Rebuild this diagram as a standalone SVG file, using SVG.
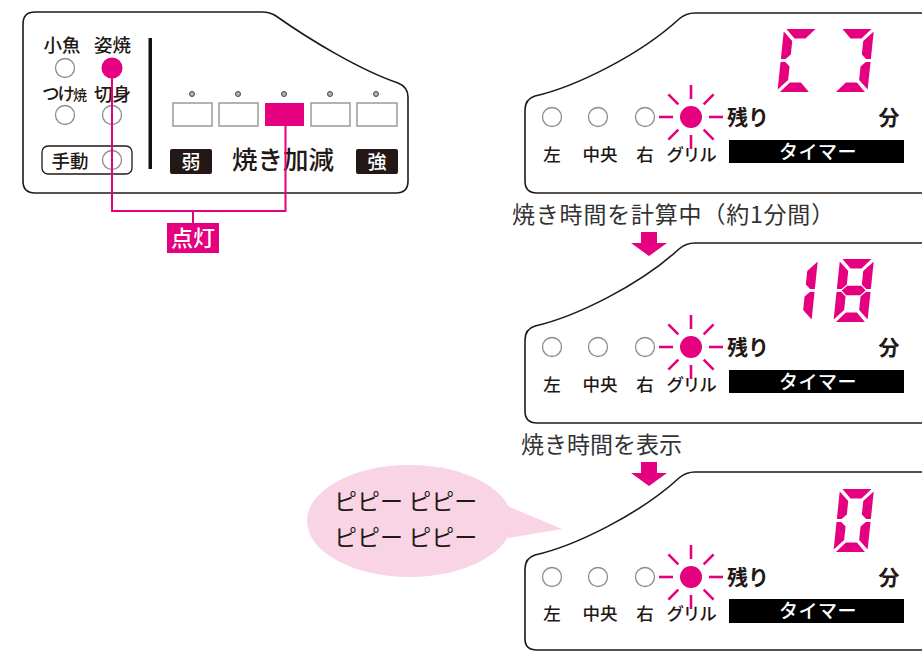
<svg xmlns="http://www.w3.org/2000/svg" xmlns:xlink="http://www.w3.org/1999/xlink" width="922" height="652" viewBox="0 0 922 652">
<style>
.jp{font-family:"Noto Sans CJK JP","Noto Sans CJK SC",sans-serif;fill:#231815;font-weight:500}
.b{font-weight:700}
.outline{fill:#fff;stroke:#231815;stroke-width:1.6}
.led{fill:#fff;stroke:#8c8c8c;stroke-width:1.3}
.pinkf{fill:#e5007f}
.ray{stroke:#e5007f;stroke-width:2.6;fill:none}
.seg{fill:#e5007f}
.wire{stroke:#e5007f;stroke-width:2;fill:none}
.lvl{fill:#fff;stroke:#9a9a9a;stroke-width:1.5}
.dot{fill:#b0b0b0;stroke:#444;stroke-width:1}
.cap{font-family:"Noto Sans CJK JP","Noto Sans CJK SC",sans-serif;fill:#333;font-size:23px}
</style>
<defs>
<g id="rays">
<line class="ray" x1="0" y1="-18" x2="0" y2="-32"/>
<line class="ray" x1="0" y1="18" x2="0" y2="32"/>
<line class="ray" x1="-18" y1="0" x2="-32" y2="0"/>
<line class="ray" x1="18" y1="0" x2="32" y2="0"/>
<line class="ray" x1="-12.7" y1="-12.7" x2="-22.6" y2="-22.6"/>
<line class="ray" x1="12.7" y1="-12.7" x2="22.6" y2="-22.6"/>
<line class="ray" x1="-12.7" y1="12.7" x2="-22.6" y2="22.6"/>
<line class="ray" x1="12.7" y1="12.7" x2="22.6" y2="22.6"/>
</g>
<polygon id="sa" class="seg" points="2.5,0 31.5,0 22.5,9.5 11.5,9.5"/>
<polygon id="sb" class="seg" points="34,2.5 24.5,12 24.5,25.5 29.25,30 34,30"/>
<polygon id="sc" class="seg" points="34,60.5 24.5,51 24.5,37.5 29.25,33 34,33"/>
<polygon id="sd" class="seg" points="2.5,63 31.5,63 22.5,53.5 11.5,53.5"/>
<polygon id="se" class="seg" points="0,60.5 9.5,51 9.5,37.5 4.75,33 0,33"/>
<polygon id="sf" class="seg" points="0,2.5 9.5,12 9.5,25.5 4.75,30 0,30"/>
<polygon id="sg" class="seg" points="5,31.5 10,26.75 24,26.75 29,31.5 24,36.25 10,36.25"/>
</defs>

<rect width="922" height="652" fill="#fff"/>

<!-- Left control panel -->
<g id="panel-left">
<path class="outline" d="M35,12 H262 Q270,12 276,16 C310,40 360,70 398,83 Q408,87 408,97 V181 Q408,193 396,193 H35 Q23,193 23,181 V24 Q23,12 35,12 Z"/>
<text class="jp" x="62" y="52" font-size="18.5" text-anchor="middle">小魚</text>
<text class="jp" x="112.5" y="52" font-size="18.5" text-anchor="middle">姿焼</text>
<circle class="led" cx="65" cy="68" r="9.5"/>
<circle class="pinkf" cx="112" cy="68" r="10.5"/>
<text class="jp" x="42" y="100" font-size="17.5" letter-spacing="-2">つけ<tspan font-size="14" letter-spacing="0">焼</tspan></text>
<text class="jp" x="112.5" y="101" font-size="18.5" text-anchor="middle">切身</text>
<circle class="led" cx="65" cy="115" r="9.5"/>
<circle class="led" cx="112" cy="115" r="9.5"/>
<rect x="42" y="146" width="90" height="28" rx="6" fill="#fff" stroke="#231815" stroke-width="1.3"/>
<text class="jp" x="70" y="168" font-size="18.5" text-anchor="middle">手動</text>
<circle class="led" cx="112" cy="160" r="9.5"/>
<rect x="148.5" y="38" width="3.5" height="131" fill="#111"/>
<circle class="dot" cx="192" cy="94" r="2.5"/>
<circle class="dot" cx="238" cy="94" r="2.5"/>
<circle class="dot" cx="284" cy="94" r="2.5"/>
<circle class="dot" cx="330" cy="94" r="2.5"/>
<circle class="dot" cx="376" cy="94" r="2.5"/>
<rect class="lvl" x="173" y="103" width="39" height="23"/>
<rect class="lvl" x="219" y="103" width="39" height="23"/>
<rect class="pinkf" x="265" y="103" width="39" height="23"/>
<rect class="lvl" x="311" y="103" width="39" height="23"/>
<rect class="lvl" x="357" y="103" width="40" height="23"/>
<rect x="170" y="149" width="42" height="25" rx="2" fill="#231815"/>
<text class="jp" x="191" y="169" font-size="19" text-anchor="middle" style="fill:#fff">弱</text>
<rect x="356" y="149" width="42" height="25" rx="2" fill="#231815"/>
<text class="jp" x="377" y="169" font-size="19" text-anchor="middle" style="fill:#fff">強</text>
<text class="jp" x="283" y="169" font-size="25.5" text-anchor="middle">焼き加減</text>
</g>

<!-- Connectors -->
<g id="connectors">
<path class="wire" d="M112,68 V211 H285.5 V126"/>
<path class="wire" d="M193,211 V223"/>
<path class="pinkf" d="M641,232 H657 V243 H667 L649,256 L631,243 H641 Z"/>
<path class="pinkf" d="M641,462 H657 V473 H667 L649,486 L631,473 H641 Z"/>
</g>

<g id="label-tento">
<rect class="pinkf" x="167" y="223" width="52" height="30"/>
<text class="jp" x="193" y="246" font-size="22" text-anchor="middle" style="fill:#fff">点灯</text>
</g>

<!-- Panel 1 -->
<g id="display-1">
<path class="outline" d="M922,13 H695 Q686,13 679,19 C640,55 575,87 535,96 Q525,99 525,110 V181 Q525,193 537,193 H923"/>
<g transform="translate(784,29) skewX(-6)">
<use xlink:href="#sa"/><use xlink:href="#sf"/><use xlink:href="#se"/><use xlink:href="#sd"/>
</g>
<g transform="translate(840,29) skewX(-6)">
<use xlink:href="#sa"/><use xlink:href="#sb"/><use xlink:href="#sc"/><use xlink:href="#sd"/>
</g>
<circle class="led" cx="552" cy="117" r="9.5"/>
<circle class="led" cx="598" cy="117" r="9.5"/>
<circle class="led" cx="645" cy="117" r="9.5"/>
<circle class="pinkf" cx="691" cy="117" r="11"/>
<use xlink:href="#rays" x="691" y="117"/>
<text class="jp b" x="727" y="125" font-size="21">残り</text>
<text class="jp b" x="889" y="125" font-size="21" text-anchor="middle">分</text>
<text class="jp" x="552" y="161" font-size="17.5" text-anchor="middle">左</text>
<text class="jp" x="600" y="161" font-size="17.5" text-anchor="middle">中央</text>
<text class="jp" x="645" y="161" font-size="17.5" text-anchor="middle">右</text>
<text class="jp" x="691" y="161" font-size="17.5" text-anchor="middle" letter-spacing="-1.2">グリル</text>
<rect x="729" y="140" width="175" height="23" fill="#000"/>
<text class="jp" x="818" y="159" font-size="19" text-anchor="middle" letter-spacing="0.5" style="fill:#fff">タイマー</text>
</g>

<text id="caption-1" class="cap" x="512" y="223" letter-spacing="0.8">焼き時間を計算中（約1分間）</text>

<!-- Panel 2 -->
<g id="display-2">
<path class="outline" d="M922,243 H695 Q686,243 679,249 C640,285 575,317 535,326 Q525,329 525,340 V411 Q525,423 537,423 H923"/>
<g transform="translate(784,259) skewX(-6)">
<use xlink:href="#sb"/><use xlink:href="#sc"/>
</g>
<g transform="translate(840,259) skewX(-6)">
<use xlink:href="#sa"/><use xlink:href="#sb"/><use xlink:href="#sc"/><use xlink:href="#sd"/><use xlink:href="#se"/><use xlink:href="#sf"/><use xlink:href="#sg"/>
</g>
<circle class="led" cx="552" cy="347" r="9.5"/>
<circle class="led" cx="598" cy="347" r="9.5"/>
<circle class="led" cx="645" cy="347" r="9.5"/>
<circle class="pinkf" cx="691" cy="347" r="11"/>
<use xlink:href="#rays" x="691" y="347"/>
<text class="jp b" x="727" y="355" font-size="21">残り</text>
<text class="jp b" x="889" y="355" font-size="21" text-anchor="middle">分</text>
<text class="jp" x="552" y="391" font-size="17.5" text-anchor="middle">左</text>
<text class="jp" x="600" y="391" font-size="17.5" text-anchor="middle">中央</text>
<text class="jp" x="645" y="391" font-size="17.5" text-anchor="middle">右</text>
<text class="jp" x="691" y="391" font-size="17.5" text-anchor="middle" letter-spacing="-1.2">グリル</text>
<rect x="729" y="370" width="175" height="23" fill="#000"/>
<text class="jp" x="818" y="389" font-size="19" text-anchor="middle" letter-spacing="0.5" style="fill:#fff">タイマー</text>
</g>

<text id="caption-2" class="cap" x="521" y="453">焼き時間を表示</text>

<!-- Speech bubble -->
<g id="bubble">
<path d="M505,505 L562,529 L508,538 Z" fill="#f8d4e4"/>
<ellipse cx="409.5" cy="521" rx="102.5" ry="56" fill="#f8d4e4"/>
<text class="jp" x="334" y="510" font-size="23" style="font-weight:400">ピピー ピピー</text>
<text class="jp" x="334" y="546" font-size="23" style="font-weight:400">ピピー ピピー</text>
</g>

<!-- Panel 3 -->
<g id="display-3">
<path class="outline" d="M922,472 H695 Q686,472 679,478 C640,514 575,546 535,555 Q525,558 525,569 V639 Q525,650 537,650 H923"/>
<g transform="translate(840,489) skewX(-6)">
<use xlink:href="#sa"/><use xlink:href="#sb"/><use xlink:href="#sc"/><use xlink:href="#sd"/><use xlink:href="#se"/><use xlink:href="#sf"/>
</g>
<circle class="led" cx="552" cy="577" r="9.5"/>
<circle class="led" cx="598" cy="577" r="9.5"/>
<circle class="led" cx="645" cy="577" r="9.5"/>
<circle class="pinkf" cx="691" cy="577" r="11"/>
<use xlink:href="#rays" x="691" y="577"/>
<text class="jp b" x="727" y="585" font-size="21">残り</text>
<text class="jp b" x="889" y="585" font-size="21" text-anchor="middle">分</text>
<text class="jp" x="552" y="620" font-size="17.5" text-anchor="middle">左</text>
<text class="jp" x="600" y="620" font-size="17.5" text-anchor="middle">中央</text>
<text class="jp" x="645" y="620" font-size="17.5" text-anchor="middle">右</text>
<text class="jp" x="691" y="620" font-size="17.5" text-anchor="middle" letter-spacing="-1.2">グリル</text>
<rect x="729" y="599" width="175" height="24" fill="#000"/>
<text class="jp" x="818" y="618" font-size="19" text-anchor="middle" letter-spacing="0.5" style="fill:#fff">タイマー</text>
</g>
</svg>
